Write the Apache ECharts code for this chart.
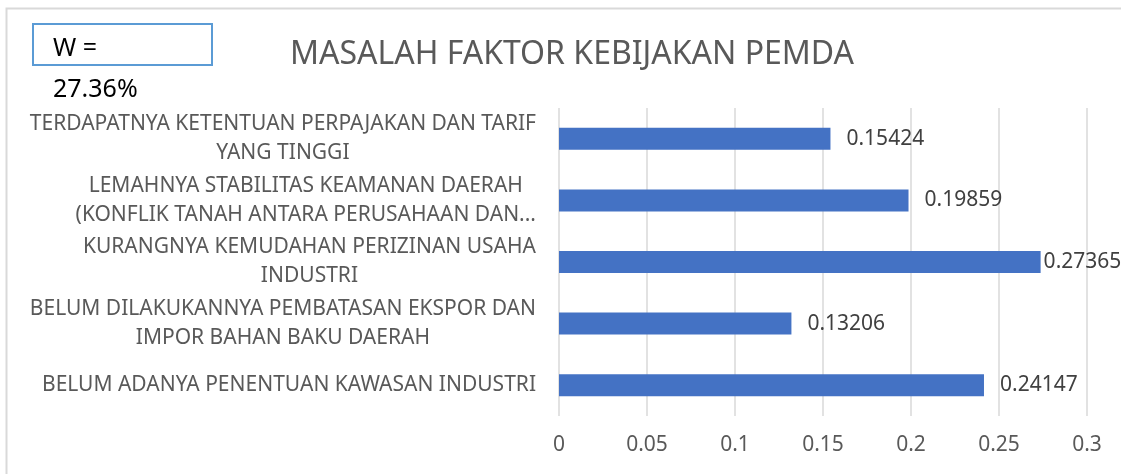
<!DOCTYPE html>
<html>
<head>
<meta charset="utf-8">
<script src="https://cdn.jsdelivr.net/npm/echarts@6/dist/echarts.min.js"></script>
<style>
  html, body { margin: 0; padding: 0; background: #fff; }
  #chart { width: 1121px; height: 474px; }
</style>
</head>
<body>
<div id="chart"></div>
<script>
// top to bottom, as shown in the chart
const categories = [
    'TERDAPATNYA KETENTUAN PERPAJAKAN DAN TARIF\nYANG TINGGI',
    'LEMAHNYA STABILITAS KEAMANAN DAERAH\n(KONFLIK TANAH ANTARA PERUSAHAAN DAN...',
    'KURANGNYA KEMUDAHAN PERIZINAN USAHA\nINDUSTRI',
    'BELUM DILAKUKANNYA PEMBATASAN EKSPOR DAN\nIMPOR BAHAN BAKU DAERAH',
    'BELUM ADANYA PENENTUAN KAWASAN INDUSTRI'
]
const values = [0.15424, 0.19859, 0.27365, 0.13206, 0.24147]
const titleText = 'MASALAH FAKTOR KEBIJAKAN PEMDA'
const weightText = ['W =', '27.36%']

const font = '"Noto Sans", "Open Sans", sans-serif'
const maxVal = Math.max(...values)

const chart = echarts.init(document.getElementById('chart'), null, { renderer: 'canvas' })

chart.setOption({
    animation: false,
    backgroundColor: '#fff',
    title: {
        text: titleText,
        left: 567,
        top: 34,
        textAlign: 'center',
        textStyle: { fontFamily: font, fontSize: 32, fontWeight: 'normal', color: '#595959' }
    },
    graphic: [
        {
            type: 'rect',
            shape: { x: 6.5, y: 8.5, width: 1140, height: 500 },
            style: { fill: 'none', stroke: '#d9d9d9', lineWidth: 2 },
            silent: true
        },
        {
            type: 'rect',
            shape: { x: 33, y: 24, width: 179, height: 41 },
            style: { fill: 'none', stroke: '#5b9bd5', lineWidth: 2 },
            silent: true
        },
        {
            type: 'text',
            left: 53,
            top: 28,
            style: {
                text: weightText[0] + '\n' + weightText[1],
                fontFamily: font,
                fontSize: 25,
                lineHeight: 41,
                fill: '#000'
            }
        }
    ],
    grid: {
        left: 559,
        right: 34,
        top: 108,
        bottom: 58
    },
    xAxis: {
        type: 'value',
        min: 0,
        max: 0.3,
        interval: 0.05,
        axisLine: { show: false },
        axisTick: { show: false },
        splitLine: { lineStyle: { color: '#d9d9d9', width: 1.5 } },
        axisLabel: {
            margin: 19,
            fontFamily: font,
            fontSize: 21,
            color: '#595959'
        }
    },
    yAxis: {
        type: 'category',
        inverse: true,
        data: categories,
        axisLine: { show: false },
        axisTick: { show: false },
        axisLabel: {
            // block right-aligned to the axis, lines centred inside it (like Excel)
            align: 'right',
            margin: 23,
            fontFamily: font,
            fontSize: 21,
            lineHeight: 29,
            color: '#595959',
            formatter: v => v.split('\n').map(l => '{c|' + l + '}').join('\n'),
            rich: {
                c: {
                    align: 'center',
                    fontFamily: font,
                    fontSize: 21,
                    lineHeight: 29,
                    color: '#595959'
                }
            }
        }
    },
    series: [{
        type: 'bar',
        barWidth: 22,
        itemStyle: { color: '#4472c4' },
        label: {
            show: true,
            position: 'right',
            distance: 16,
            fontFamily: font,
            fontSize: 21,
            color: '#404040'
        },
        data: values.map(v => v === maxVal ? { value: v, label: { distance: 3 } } : v)
    }]
})
</script>
</body>
</html>
